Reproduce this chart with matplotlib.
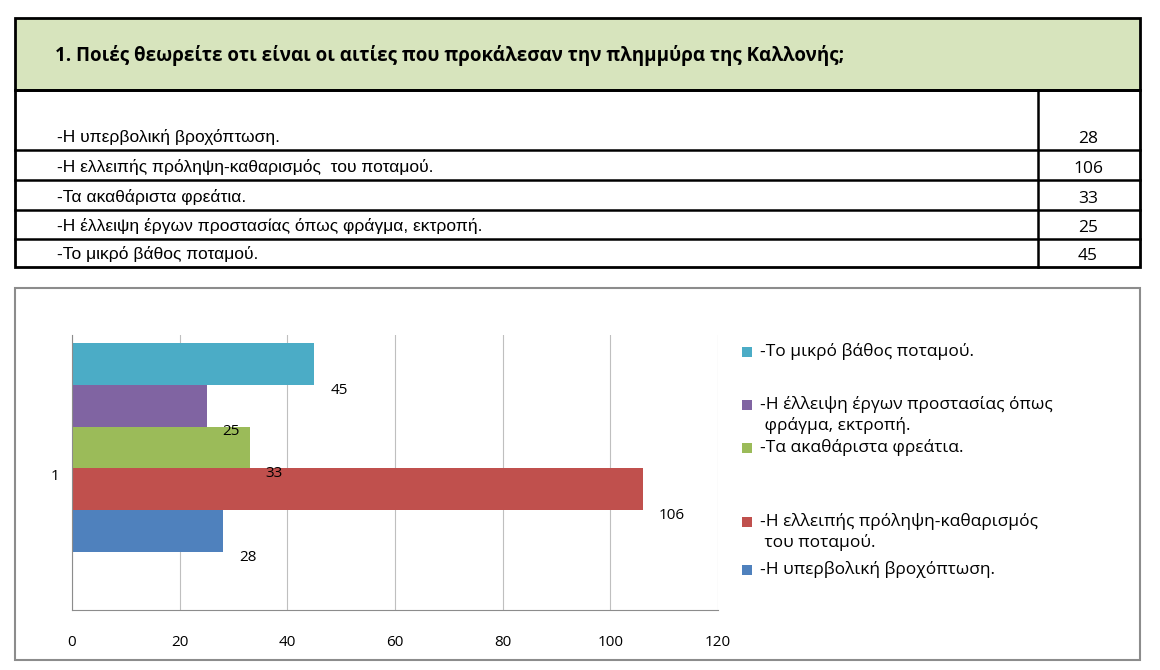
import matplotlib
matplotlib.use("Agg")
import matplotlib.pyplot as plt
from matplotlib.patches import Rectangle

title = "1. Ποιές θεωρείτε οτι είναι οι αιτίες που προκάλεσαν την πλημμύρα της Καλλονής;"
causes = ["-Η υπερβολική βροχόπτωση.",
          "-Η ελλειπής πρόληψη-καθαρισμός  του ποταμού.",
          "-Τα ακαθάριστα φρεάτια.",
          "-Η έλλειψη έργων προστασίας όπως φράγμα, εκτροπή.",
          "-Το μικρό βάθος ποταμού."]
legend_labels = ["-Η υπερβολική βροχόπτωση.",
                 "-Η ελλειπής πρόληψη-καθαρισμός\n του ποταμού.",
                 "-Τα ακαθάριστα φρεάτια.",
                 "-Η έλλειψη έργων προστασίας όπως\n φράγμα, εκτροπή.",
                 "-Το μικρό βάθος ποταμού."]
values = [28, 106, 33, 25, 45]
colors = ["#4f81bd", "#c0504d", "#9bbb59", "#8064a2", "#4bacc6"]
xticks = [0, 20, 40, 60, 80, 100, 120]

fig = plt.figure(figsize=(11.6, 6.7), dpi=100)
bg = fig.add_axes([0, 0, 1, 1])
bg.set_xlim(0, 1160); bg.set_ylim(670, 0); bg.axis("off")

# table
bg.add_patch(Rectangle((15, 18), 1125, 72, facecolor="#d7e4bd", edgecolor="black", lw=2))
bg.text(55, 55, title, fontsize=13.5, fontweight="bold", family="Open Sans", va="center")
bg.add_patch(Rectangle((15, 90), 1125, 177, facecolor="none", edgecolor="black", lw=2))
bg.plot([1038, 1038], [90, 267], color="black", lw=1.8)
row_bottoms = [150, 180, 210, 239, 267]
for yb in row_bottoms[:-1]:
    bg.plot([15, 1140], [yb, yb], color="black", lw=1.8)
for i, (c, v) in enumerate(zip(causes, values)):
    y = row_bottoms[i] - 13
    bg.text(57, y, c, fontsize=12.5, family="Liberation Sans", va="center")
    bg.text(1088, y + 2, str(v), fontsize=12.5, family="Open Sans", va="center", ha="center")

# chart frame
bg.add_patch(Rectangle((15, 288), 1125, 372, facecolor="white", edgecolor="#8c8c8c", lw=1.5))

ax = fig.add_axes([72/1160, 1-610/670, (718-72)/1160, (610-335)/670])
pos = list(range(len(values)))
ax.barh(pos, values, height=1.0, color=colors)
ax.set_xlim(0, 120); ax.set_ylim(-1.89, 4.69)
ax.set_xticks(xticks)
ax.tick_params(axis="x", length=0, pad=18, labelsize=11)
for lab in ax.get_xticklabels():
    lab.set_family("Open Sans")
ax.set_yticks([])
ax.grid(axis="x", color="#bfbfbf", lw=0.8)
ax.set_axisbelow(True)
for s in ["top", "right"]:
    ax.spines[s].set_visible(False)
ax.spines["left"].set_color("#8c8c8c")
ax.spines["bottom"].set_color("#8c8c8c")
for p, v in zip(pos, values):
    ax.text(v + 3, p - 0.63, str(v), fontsize=11, family="Open Sans", va="center")
bg.text(55, 477, "1", fontsize=11, family="Open Sans", va="center", ha="center")

# legend
leg_y = [570, 522, 448, 405, 352]
for lab, col, y in zip(legend_labels, colors, leg_y):
    bg.add_patch(Rectangle((742, y - 5), 10, 10, facecolor=col))
    bg.text(760, y - 9, lab, fontsize=12.5, family="Open Sans", va="top", linespacing=1.3)

fig.savefig("out.png", dpi=100)
